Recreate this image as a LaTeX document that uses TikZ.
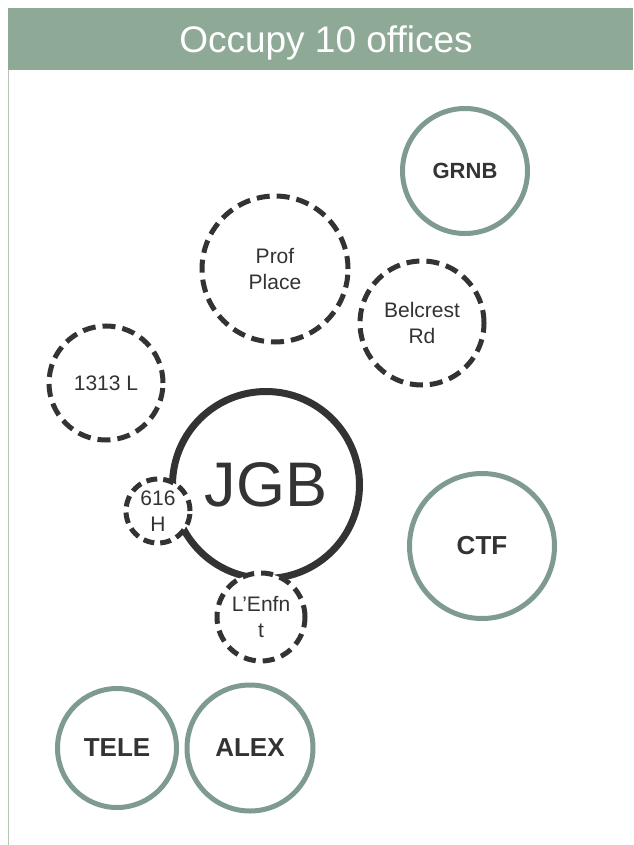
\documentclass[tikz,border=0pt]{standalone}
\usepackage{fontspec}
\setmainfont{Liberation Sans}
\definecolor{hdrgreen}{HTML}{8FA997}
\definecolor{ringgreen}{HTML}{7F9A93}
\definecolor{inkgray}{HTML}{333333}
\definecolor{edgegreen}{HTML}{B5C7B2}

\begin{document}
\begin{tikzpicture}[x=1pt, y=-1pt,
	office/.style={circle, draw=ringgreen, line width=5pt, fill=white, inner sep=0pt, text=inkgray, font=\bfseries\fontsize{26}{30}\selectfont},
	planned/.style={circle, draw=inkgray, line width=5pt, dash pattern=on 13pt off 7pt, fill=white, inner sep=0pt, align=center, text=inkgray, font=\fontsize{21}{26}\selectfont}]

	\useasboundingbox (0,0) rectangle (633,845);
	\fill [white] (0,0) rectangle (633,845);
	\fill [hdrgreen] (8,8) rectangle (633,70);
	\draw [edgegreen, line width=1.3pt] (8.5,70) -- (8.5,845);
	\node (title) [text=white, font=\fontsize{37}{40}\selectfont] at (326,43) {Occupy 10 offices};

	% main building
	\node (jgb) [circle, draw=inkgray, line width=7pt, inner sep=0pt, minimum size=187pt, text=inkgray, font=\fontsize{63}{63}\selectfont] at (266,485) {JGB};

	% dashed offices
	\node (prof) [planned, minimum size=146pt] at (275,269) {Prof\\Place};
	\node (belcrest) [planned, minimum size=124pt] at (422,323) {Belcrest\\Rd};
	\node (l1313) [planned, minimum size=114pt] at (106,383) {1313 L};
	\node (h616) [planned, minimum size=64pt, dash pattern=on 11pt off 6pt] at (158,511) {616\\H};
	\node (lenfant) [planned, minimum size=88pt, dash pattern=on 12pt off 7pt] at (261,617) {L’Enfn\\t};

	% solid offices
	\node (grnb) [office, minimum size=125pt, font=\bfseries\fontsize{22}{26}\selectfont] at (465,171) {GRNB};
	\node (ctf) [office, minimum size=145pt] at (482,546) {CTF};
	\node (tele) [office, minimum size=119pt] at (117,748) {TELE};
	\node (alex) [office, minimum size=126pt] at (250,748) {ALEX};

\end{tikzpicture}
\end{document}
